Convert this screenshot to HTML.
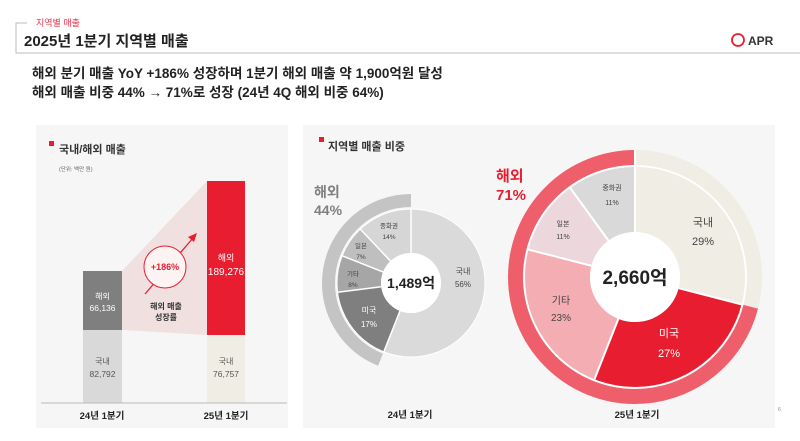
<!DOCTYPE html>
<html><head><meta charset="utf-8"><style>
html,body{margin:0;padding:0;background:#fff;}
body{width:800px;height:441px;overflow:hidden;position:relative;font-family:"Liberation Sans","Noto Sans CJK KR",sans-serif;}
svg{position:absolute;left:0;top:0;}
</style></head><body>
<svg width="800" height="441" viewBox="0 0 800 441" font-family="Liberation Sans, Noto Sans CJK KR, sans-serif">
<!-- header -->
<path d="M27 23 H16 V53 H800" fill="none" stroke="#bbb" stroke-width="1"/>
<text x="36" y="26" font-size="9" fill="#e8334a">지역별 매출</text>
<text x="24" y="46" font-size="15" font-weight="bold" fill="#222">2025년 1분기 지역별 매출</text>
<circle cx="738" cy="40" r="6" fill="none" stroke="#e81e30" stroke-width="1.8"/>
<text x="748" y="45" font-size="12" font-weight="bold" fill="#333">APR</text>
<text x="32" y="78" font-size="13.5" font-weight="bold" fill="#222">해외 분기 매출 YoY +186% 성장하며 1분기 해외 매출 약 1,900억원 달성</text>
<text x="32" y="97" font-size="13.5" font-weight="bold" fill="#222">해외 매출 비중 44% → 71%로 성장 (24년 4Q 해외 비중 64%)</text>

<!-- panels -->
<rect x="36" y="125" width="252" height="303" fill="#f6f6f6"/>
<rect x="303" y="125" width="472" height="303" fill="#f6f6f6"/>

<!-- left chart -->
<rect x="49" y="141" width="5" height="5" fill="#e81e30"/>
<text x="59" y="153" font-size="11" font-weight="bold" fill="#333">국내/해외 매출</text>
<text x="59" y="171" font-size="5.5" fill="#666">(단위: 백만 원)</text>
<polygon points="122,271 207,181 207,335 122,330" fill="#f0e0e0"/>
<rect x="83" y="271" width="39" height="59" fill="#7f7f7f"/>
<rect x="83" y="330" width="39" height="73" fill="#d9d9d9"/>
<rect x="207" y="181" width="38" height="154" fill="#e81e30"/>
<rect x="207" y="335" width="38" height="68" fill="#efede4"/>
<line x1="41" y1="403" x2="287" y2="403" stroke="#bbb" stroke-width="1"/>
<text x="102.5" y="299" font-size="8" fill="#fff" text-anchor="middle">해외</text>
<text x="102.5" y="311" font-size="8.5" fill="#fff" text-anchor="middle">66,136</text>
<text x="102.5" y="364" font-size="8" fill="#555" text-anchor="middle">국내</text>
<text x="102.5" y="377" font-size="8.5" fill="#555" text-anchor="middle">82,792</text>
<text x="226" y="261" font-size="9" fill="#fff" text-anchor="middle">해외</text>
<text x="226" y="275" font-size="10" fill="#fff" text-anchor="middle">189,276</text>
<text x="226" y="364" font-size="8" fill="#555" text-anchor="middle">국내</text>
<text x="226" y="377" font-size="8.5" fill="#555" text-anchor="middle">76,757</text>
<line x1="145" y1="294" x2="193" y2="238" stroke="#e81e30" stroke-width="1.3"/>
<polygon points="197,233 188,237 194,242" fill="#e81e30"/>
<circle cx="165" cy="267" r="21" fill="#fdf3f3" stroke="#e81e30" stroke-width="1"/>
<text x="165" y="270" font-size="9" font-weight="bold" fill="#e81e30" text-anchor="middle">+186%</text>
<text x="166" y="309" font-size="8" font-weight="bold" fill="#333" text-anchor="middle">해외 매출</text>
<text x="166" y="320" font-size="8" font-weight="bold" fill="#333" text-anchor="middle">성장률</text>
<text x="102" y="419" font-size="9.5" font-weight="bold" fill="#222" text-anchor="middle">24년 1분기</text>
<text x="226" y="419" font-size="9.5" font-weight="bold" fill="#222" text-anchor="middle">25년 1분기</text>

<!-- middle chart -->
<rect x="319" y="137" width="5" height="5" fill="#e81e30"/>
<text x="328" y="150" font-size="11" font-weight="bold" fill="#333">지역별 매출 비중</text>
<g transform="rotate(-90 411 283)" fill="none">
 <circle cx="411" cy="283" r="82.5" stroke="#c4c4c4" stroke-width="13" stroke-dasharray="228.1 518.4" stroke-dashoffset="-290.3"/>
 <circle cx="411" cy="283" r="52" stroke="#dadada" stroke-width="44" stroke-dasharray="183 326.7" stroke-dashoffset="0"/>
 <circle cx="411" cy="283" r="52" stroke="#7f7f7f" stroke-width="44" stroke-dasharray="55.5 326.7" stroke-dashoffset="-183"/>
 <circle cx="411" cy="283" r="52" stroke="#a6a6a6" stroke-width="44" stroke-dasharray="26.1 326.7" stroke-dashoffset="-238.5"/>
 <circle cx="411" cy="283" r="52" stroke="#bfbfbf" stroke-width="44" stroke-dasharray="22.9 326.7" stroke-dashoffset="-264.6"/>
 <circle cx="411" cy="283" r="52" stroke="#d6d6d6" stroke-width="44" stroke-dasharray="39.2 326.7" stroke-dashoffset="-287.5"/>
</g>
<g stroke="#fff" stroke-width="1.5">
 <line x1="400" y1="310.9" x2="383.8" y2="351.8"/>
 <line x1="381.2" y1="286.8" x2="337.6" y2="292.3"/>
 <line x1="383.1" y1="272" x2="342.2" y2="255.8"/>
 <line x1="390.5" y1="261.1" x2="360.3" y2="229.1"/>
 <line x1="411" y1="253" x2="411" y2="209"/>
</g>
<circle cx="411" cy="283" r="74" fill="none" stroke="#fff" stroke-width="1"/>
<circle cx="411" cy="283" r="30" fill="#fff"/>
<text x="411" y="288" font-size="14" font-weight="bold" fill="#222" text-anchor="middle">1,489억</text>
<text x="463" y="274" font-size="8" fill="#444" text-anchor="middle">국내</text>
<text x="463" y="287" font-size="8" fill="#444" text-anchor="middle">56%</text>
<text x="369" y="313" font-size="8" fill="#fff" text-anchor="middle">미국</text>
<text x="369" y="327" font-size="8" fill="#fff" text-anchor="middle">17%</text>
<text x="353" y="276" font-size="6.5" fill="#444" text-anchor="middle">기타</text>
<text x="353" y="287" font-size="6.5" fill="#444" text-anchor="middle">8%</text>
<text x="361" y="248" font-size="6.5" fill="#444" text-anchor="middle">일본</text>
<text x="361" y="259" font-size="6.5" fill="#444" text-anchor="middle">7%</text>
<text x="389" y="228" font-size="6.5" fill="#444" text-anchor="middle">중화권</text>
<text x="389" y="239" font-size="6.5" fill="#444" text-anchor="middle">14%</text>
<text x="314" y="197" font-size="14" font-weight="bold" fill="#7f7f7f">해외</text>
<text x="314" y="215" font-size="14" font-weight="bold" fill="#7f7f7f">44%</text>
<text x="410" y="418" font-size="9.5" font-weight="bold" fill="#222" text-anchor="middle">24년 1분기</text>

<!-- right chart -->
<g transform="rotate(-90 635 277)" fill="none">
 <circle cx="635" cy="277" r="119.5" stroke="#efede4" stroke-width="15" stroke-dasharray="217.7 750.8" stroke-dashoffset="0"/>
 <circle cx="635" cy="277" r="119.5" stroke="#ef5e6b" stroke-width="15" stroke-dasharray="533.1 750.8" stroke-dashoffset="-217.7"/>
 <circle cx="635" cy="277" r="77.5" stroke="#efede4" stroke-width="65" stroke-dasharray="141.2 487" stroke-dashoffset="0"/>
 <circle cx="635" cy="277" r="77.5" stroke="#e81e30" stroke-width="65" stroke-dasharray="131.5 487" stroke-dashoffset="-141.2"/>
 <circle cx="635" cy="277" r="77.5" stroke="#f4adb3" stroke-width="65" stroke-dasharray="112 487" stroke-dashoffset="-272.7"/>
 <circle cx="635" cy="277" r="77.5" stroke="#ecd8dc" stroke-width="65" stroke-dasharray="53.6 487" stroke-dashoffset="-384.7"/>
 <circle cx="635" cy="277" r="77.5" stroke="#d9d9d9" stroke-width="65" stroke-dasharray="48.7 487" stroke-dashoffset="-438.3"/>
</g>
<g stroke="#fff" stroke-width="2">
 <line x1="678.6" y1="288.2" x2="741.5" y2="304.4"/>
 <line x1="618.4" y1="318.8" x2="594.5" y2="379.3"/>
 <line x1="591.4" y1="265.8" x2="528.5" y2="249.6"/>
 <line x1="608.5" y1="240.6" x2="570.3" y2="188"/>
 <line x1="635" y1="232" x2="635" y2="150"/>
</g>
<circle cx="635" cy="277" r="111" fill="none" stroke="#fff" stroke-width="1.5"/>
<circle cx="635" cy="277" r="45" fill="#fff"/>
<text x="635" y="284" font-size="19" font-weight="bold" fill="#222" text-anchor="middle">2,660억</text>
<text x="703" y="226" font-size="11" fill="#444" text-anchor="middle">국내</text>
<text x="703" y="245" font-size="11" fill="#444" text-anchor="middle">29%</text>
<text x="669" y="337" font-size="11" fill="#fff" text-anchor="middle">미국</text>
<text x="669" y="357" font-size="11" fill="#fff" text-anchor="middle">27%</text>
<text x="561" y="304" font-size="10" fill="#444" text-anchor="middle">기타</text>
<text x="561" y="321" font-size="10" fill="#444" text-anchor="middle">23%</text>
<text x="563" y="226" font-size="7" fill="#444" text-anchor="middle">일본</text>
<text x="563" y="239" font-size="7" fill="#444" text-anchor="middle">11%</text>
<text x="612" y="190" font-size="7" fill="#444" text-anchor="middle">중화권</text>
<text x="612" y="205" font-size="7" fill="#444" text-anchor="middle">11%</text>
<text x="496" y="181" font-size="15" font-weight="bold" fill="#e81e30">해외</text>
<text x="496" y="200" font-size="15" font-weight="bold" fill="#e81e30">71%</text>
<text x="637" y="418" font-size="9.5" font-weight="bold" fill="#222" text-anchor="middle">25년 1분기</text>
<text x="778" y="411" font-size="5" fill="#888">6</text>
</svg>
</body></html>
